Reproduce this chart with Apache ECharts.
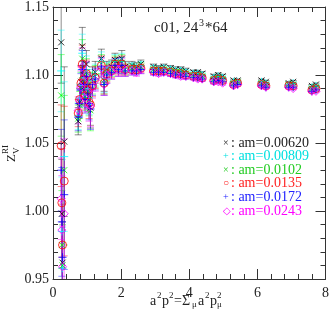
<!DOCTYPE html>
<html>
<head>
<meta charset="utf-8">
<script src="https://cdn.jsdelivr.net/npm/echarts/dist/echarts.min.js"></script>
<style>
  html, body { margin: 0; padding: 0; background: #fff; }
  #chart { width: 332px; height: 319px; }
</style>
</head>
<body>
<div id="chart"></div>
<script>
// momenta a^2 p^2 (shared by all masses)
const a2p2 = [0.24, 0.33, 0.26, 0.28,
  0.74, 0.78, 0.82, 0.86, 0.90, 0.94, 0.98, 1.02, 1.06, 1.10, 1.16, 1.24,
  1.42, 1.50, 1.58,
  1.72, 1.82, 1.92, 2.02, 2.12,
  2.32, 2.45, 2.58,
  2.95, 3.10, 3.25,
  3.45, 3.60, 3.75, 3.90,
  4.12, 4.25, 4.38,
  4.72, 4.85, 4.98,
  5.30, 5.42,
  6.12, 6.25,
  6.92, 7.05,
  7.60, 7.72];

// error bars per momentum
const errs = [0.030, 0.055, 0.040, 0.030,
  0.010, 0.010, 0.012, 0.014, 0.010, 0.010, 0.010, 0.010, 0.012, 0.015, 0.008, 0.008,
  0.007, 0.008, 0.006,
  0.005, 0.005, 0.005, 0.006, 0.004,
  0.003, 0.003, 0.003,
  0.002, 0.002, 0.002,
  0.002, 0.002, 0.002, 0.002,
  0.0015, 0.0015, 0.0015,
  0.0015, 0.0015, 0.0015,
  0.001, 0.001, 0.001, 0.001, 0.001, 0.001, 0.001, 0.001];

const zv00620 = [1.124, 1.051, 0.998, 0.962,
  1.066, 1.080, 1.095, 1.121, 1.100, 1.088, 1.108, 1.092, 1.085, 1.076, 1.098, 1.102,
  1.112, 1.096, 1.104,
  1.106, 1.111, 1.108, 1.112, 1.106,
  1.107, 1.106, 1.108,
  1.106, 1.105, 1.106,
  1.105, 1.104, 1.104, 1.103,
  1.102, 1.102, 1.101,
  1.099, 1.100, 1.099,
  1.096, 1.096,
  1.096, 1.095,
  1.094, 1.095,
  1.092, 1.093];

const zv00809 = [1.103, 1.040, 0.985, 0.958,
  1.070, 1.083, 1.092, 1.116, 1.098, 1.086, 1.104, 1.090, 1.083, 1.078, 1.096, 1.100,
  1.110, 1.095, 1.103,
  1.105, 1.110, 1.107, 1.110, 1.105,
  1.106, 1.105, 1.107,
  1.105, 1.104, 1.105,
  1.104, 1.103, 1.103, 1.102,
  1.101, 1.101, 1.100,
  1.098, 1.099, 1.098,
  1.095, 1.095,
  1.095, 1.094,
  1.093, 1.094,
  1.091, 1.092];

const zv0102 = [1.085, 1.030, 0.975, 0.960,
  1.068, 1.078, 1.090, 1.112, 1.096, 1.084, 1.102, 1.088, 1.082, 1.074, 1.094, 1.099,
  1.108, 1.094, 1.102,
  1.104, 1.109, 1.106, 1.109, 1.104,
  1.105, 1.104, 1.106,
  1.104, 1.103, 1.104,
  1.103, 1.102, 1.102, 1.101,
  1.100, 1.100, 1.099,
  1.097, 1.098, 1.097,
  1.094, 1.095,
  1.094, 1.093,
  1.093, 1.093,
  1.090, 1.091];

const zv0135 = [1.048, 1.022, 1.006, 0.975,
  1.072, 1.082, 1.094, 1.108, 1.097, 1.085, 1.101, 1.089, 1.080, 1.078, 1.092, 1.098,
  1.107, 1.094, 1.101,
  1.103, 1.108, 1.105, 1.108, 1.104,
  1.104, 1.104, 1.105,
  1.103, 1.103, 1.103,
  1.102, 1.101, 1.101, 1.100,
  1.099, 1.099, 1.098,
  1.096, 1.097, 1.096,
  1.093, 1.094,
  1.093, 1.092,
  1.092, 1.092,
  1.089, 1.090];

const zv0172 = [1.030, 1.012, 0.992, 0.966,
  1.069, 1.079, 1.089, 1.104, 1.093, 1.082, 1.099, 1.086, 1.079, 1.075, 1.093, 1.097,
  1.106, 1.093, 1.100,
  1.102, 1.107, 1.104, 1.107, 1.103,
  1.103, 1.103, 1.104,
  1.102, 1.102, 1.102,
  1.101, 1.100, 1.100, 1.099,
  1.098, 1.098, 1.097,
  1.095, 1.096, 1.095,
  1.092, 1.093,
  1.092, 1.091,
  1.091, 1.091,
  1.088, 1.089];

const zv0243 = [1.009, 0.998, 0.986, 0.959,
  1.074, 1.081, 1.091, 1.106, 1.095, 1.083, 1.100, 1.087, 1.078, 1.077, 1.091, 1.096,
  1.105, 1.093, 1.100,
  1.102, 1.106, 1.104, 1.106, 1.103,
  1.103, 1.102, 1.104,
  1.102, 1.101, 1.102,
  1.101, 1.100, 1.099, 1.099,
  1.098, 1.097, 1.097,
  1.095, 1.095, 1.094,
  1.092, 1.093,
  1.092, 1.091,
  1.091, 1.090,
  1.088, 1.088];

const masses = ['am=0.00620', 'am=0.00809', 'am=0.0102', 'am=0.0135', 'am=0.0172', 'am=0.0243'];
const legendMarks = ['×', '+', '×', '○', '+', '◇'];

const crossPath = 'path://M0,0L10,10M10,0L0,10';
const plusPath = 'path://M5,0L5,10M0,5L10,5';

const sets = [
  { y: zv00620, color: '#000000', symbol: crossPath, size: 6, text: '#222222' },
  { y: zv00809, color: '#00ffff', symbol: plusPath, size: 8, text: '#00e0e0' },
  { y: zv0102, color: '#00ff00', symbol: crossPath, size: 6, text: '#22cc22' },
  { y: zv0135, color: '#ff0000', symbol: 'circle', size: 8, text: '#ff2222' },
  { y: zv0172, color: '#0000ff', symbol: plusPath, size: 8, text: '#2222ff' },
  { y: zv0243, color: '#ff00ff', symbol: 'diamond', size: 8, text: '#ff00ff' },
];

const FONT = 'Liberation Serif';

const series = [];
sets.forEach((s) => {
  series.push({
    type: 'custom',
    clip: true,
    silent: true,
    data: a2p2.map((x, i) => [x, s.y[i], errs[i]]),
    renderItem(params, api) {
      const x = api.value(0);
      const y = api.value(1);
      const e = api.value(2);
      const hi = api.coord([x, y + e]);
      const lo = api.coord([x, y - e]);
      const w = 3.5;
      const style = { stroke: s.color, lineWidth: 1, opacity: 0.45 };
      return {
        type: 'group',
        children: [
          { type: 'line', shape: { x1: hi[0], y1: hi[1], x2: lo[0], y2: lo[1] }, style },
          { type: 'line', shape: { x1: hi[0] - w, y1: hi[1], x2: hi[0] + w, y2: hi[1] }, style },
          { type: 'line', shape: { x1: lo[0] - w, y1: lo[1], x2: lo[0] + w, y2: lo[1] }, style },
        ],
      };
    },
  });
  series.push({
    type: 'scatter',
    silent: true,
    symbol: s.symbol,
    symbolSize: s.size,
    itemStyle: { color: 'none', borderColor: s.color, borderWidth: 1 },
    data: a2p2.map((x, i) => [x, s.y[i]]),
  });
});

const axisCommon = {
  axisLine: { show: true, onZero: false, lineStyle: { color: '#333', width: 1 } },
  axisTick: { show: true, inside: true, length: 10, lineStyle: { color: '#333' } },
  minorTick: { show: true, splitNumber: 5, length: 5, lineStyle: { color: '#333' } },
  splitLine: { show: false },
};

const graphic = [
  {
    type: 'group', x: 154, y: 28,
    children: [
      { type: 'text', x: 0, y: 0, style: { text: 'c01, 24', fill: '#222', font: '15px ' + FONT, verticalAlign: 'middle' } },
      { type: 'text', x: 45, y: -5, style: { text: '3', fill: '#222', font: '10px ' + FONT, verticalAlign: 'middle' } },
      { type: 'text', x: 51, y: 0, style: { text: '*64', fill: '#222', font: '15px ' + FONT, verticalAlign: 'middle' } },
    ],
  },
  {
    type: 'group', x: 12, y: 150, rotation: Math.PI / 2,
    children: [
      { type: 'text', x: -12, y: 0, style: { text: 'Z', fill: '#222', font: '13px ' + FONT, verticalAlign: 'middle' } },
      { type: 'text', x: -4, y: 5, style: { text: 'V', fill: '#222', font: '9px ' + FONT, verticalAlign: 'middle' } },
      { type: 'text', x: -4, y: -6, style: { text: 'RI', fill: '#222', font: '9px ' + FONT, verticalAlign: 'middle' } },
    ],
  },
  {
    type: 'group', x: 150, y: 301,
    children: [
      { type: 'text', x: 0, y: 0, style: { text: 'a', fill: '#222', font: '14px ' + FONT, verticalAlign: 'middle' } },
      { type: 'text', x: 7, y: -5, style: { text: '2', fill: '#222', font: '9px ' + FONT, verticalAlign: 'middle' } },
      { type: 'text', x: 12, y: 0, style: { text: 'p', fill: '#222', font: '14px ' + FONT, verticalAlign: 'middle' } },
      { type: 'text', x: 19, y: -5, style: { text: '2', fill: '#222', font: '9px ' + FONT, verticalAlign: 'middle' } },
      { type: 'text', x: 24, y: 0, style: { text: '=Σ', fill: '#222', font: '14px ' + FONT, verticalAlign: 'middle' } },
      { type: 'text', x: 42, y: 4, style: { text: 'μ', fill: '#222', font: '9px ' + FONT, verticalAlign: 'middle' } },
      { type: 'text', x: 48, y: 0, style: { text: 'a', fill: '#222', font: '14px ' + FONT, verticalAlign: 'middle' } },
      { type: 'text', x: 55, y: -5, style: { text: '2', fill: '#222', font: '9px ' + FONT, verticalAlign: 'middle' } },
      { type: 'text', x: 60, y: 0, style: { text: 'p', fill: '#222', font: '14px ' + FONT, verticalAlign: 'middle' } },
      { type: 'text', x: 67, y: -5, style: { text: '2', fill: '#222', font: '9px ' + FONT, verticalAlign: 'middle' } },
      { type: 'text', x: 67, y: 4, style: { text: 'μ', fill: '#222', font: '9px ' + FONT, verticalAlign: 'middle' } },
    ],
  },
];

masses.forEach((m, i) => {
  graphic.push({
    type: 'group', x: 223, y: 143 + i * 13.6,
    children: [
      { type: 'text', x: 0, y: 0, style: { text: legendMarks[i], fill: sets[i].text, font: '10px ' + FONT, verticalAlign: 'middle' } },
      { type: 'text', x: 8, y: 0, style: { text: ': ' + m, fill: sets[i].text, font: '14px ' + FONT, verticalAlign: 'middle' } },
    ],
  });
});

const myCharts = echarts.init(document.getElementById('chart'), null, { renderer: 'canvas' });
myCharts.setOption({
  animation: false,
  backgroundColor: '#fff',
  grid: { left: 53, right: 3, top: 5, bottom: 40 },
  xAxis: [
    {
      ...axisCommon, type: 'value', position: 'bottom', min: 0, max: 8, interval: 2,
      axisLabel: { color: '#222', fontFamily: FONT, fontSize: 14, margin: 7 },
    },
    {
      ...axisCommon, type: 'value', position: 'top', min: 0, max: 8, interval: 2,
      axisLabel: { show: false },
    },
  ],
  yAxis: [
    {
      ...axisCommon, type: 'value', position: 'left', min: 0.95, max: 1.15, interval: 0.05,
      axisLabel: { color: '#222', fontFamily: FONT, fontSize: 14, margin: 4,
        formatter: (v) => v.toFixed(2) },
    },
    {
      ...axisCommon, type: 'value', position: 'right', min: 0.95, max: 1.15, interval: 0.05,
      axisLabel: { show: false },
    },
  ],
  series,
  graphic,
});
</script>
</body>
</html>
